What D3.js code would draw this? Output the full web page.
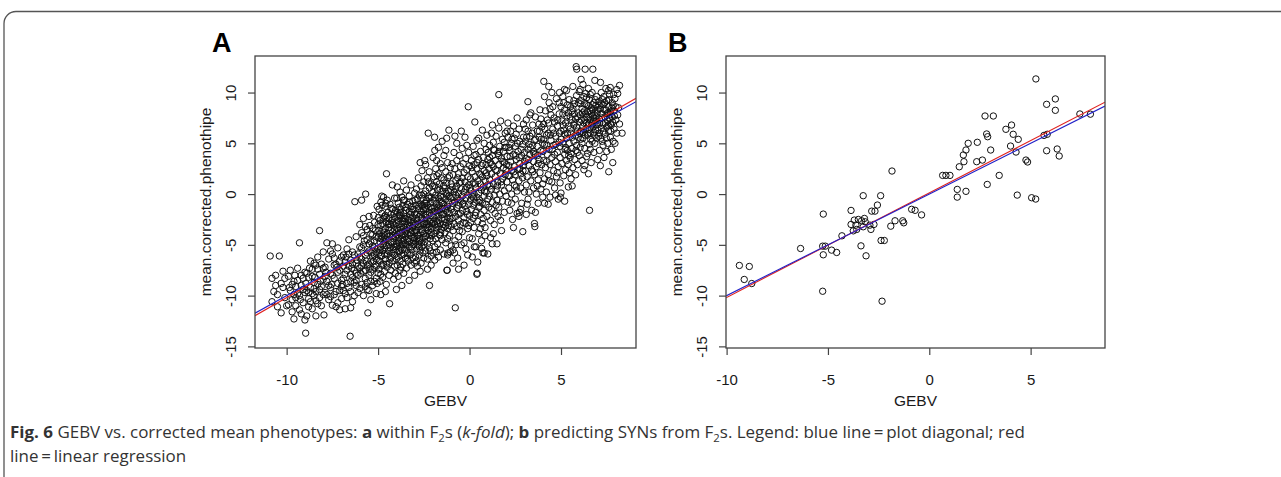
<!DOCTYPE html>
<html>
<head>
<meta charset="utf-8">
<script src="https://cdn.jsdelivr.net/npm/d3@7"></script>
<style>
  body { margin: 0; background: #fff; }
  svg { display: block; }
</style>
</head>
<body>
<svg id="fig" width="1281" height="477"></svg>
<script>
// GEBV (x) vs mean corrected phenotype (y)
// panel A: within F2s (k-fold)
var pointsA = [
  [-10.9,-6.1],[-10.4,-6.1],[-10.5,-11.1],[-10.8,-8.3],[-10.6,-8.0],[-10.2,-9.2],[-10.7,-9.6],[-10.3,-8.8],[-10.1,-10.2],[-10.5,-9.9],[-10.0,-11.0],[-10.3,-11.7],[-10.8,-10.6],[-10.2,-7.6],[-10.6,-9.0],[-10.1,-8.3],
  [-9.9,-8.1],[-9.8,-9.5],[-9.7,-10.4],[-9.6,-12.3],[-9.6,-8.6],[-9.5,-11.0],[-9.5,-9.1],[-9.4,-7.3],[-9.3,-4.8],[-9.3,-10.0],[-9.2,-8.0],[-9.2,-11.8],[-9.1,-9.4],[-9.1,-10.7],[-9.0,-12.4],[-9.0,-7.7],[-9.9,-10.9],[-9.7,-8.9],[-9.4,-9.8],[-9.8,-7.5],[-9.5,-10.2],[-9.2,-9.0],[-9.6,-9.9],[-9.1,-8.3],[-9.3,-11.4],[-9.0,-9.7],[-9.4,-8.5],[-9.7,-11.6],
  [-8.96,-13.7],[-8.9,-12.0],[-8.8,-10.3],[-8.8,-8.2],[-8.7,-9.2],[-8.7,-6.6],[-8.6,-11.3],[-8.6,-7.4],[-8.5,-10.0],[-8.5,-8.7],[-8.4,-12.0],[-8.4,-9.6],[-8.3,-6.2],[-8.3,-10.8],[-8.2,-7.9],[-8.2,-3.6],[-8.1,-9.1],[-8.1,-11.0],[-8.0,-8.4],[-8.0,-5.7],[-8.9,-9.5],[-8.8,-11.1],[-8.6,-9.8],[-8.4,-7.0],[-8.3,-8.9],[-8.7,-10.6],[-8.5,-6.8],[-8.2,-10.2],[-8.1,-6.9],[-8.9,-7.8],[-8.6,-8.1],[-8.4,-10.5],[-8.0,-9.9],[-8.5,-9.3],[-8.2,-9.4],[-8.8,-9.7],[-8.3,-7.4],[-8.0,-7.3],
  [-7.96,-11.9],[-7.9,-9.7],[-7.9,-7.2],[-7.8,-4.8],[-7.8,-8.6],[-7.7,-10.4],[-7.7,-6.4],[-7.6,-9.2],[-7.6,-7.8],[-7.5,-10.95],[-7.5,-5.9],[-7.4,-8.3],[-7.4,-9.9],[-7.3,-11.1],[-7.3,-6.9],[-7.2,-8.8],[-7.2,-5.3],[-7.1,-9.5],[-7.1,-7.5],[-7.0,-10.3],[-7.0,-6.2],[-7.9,-8.1],[-7.7,-9.0],[-7.6,-5.6],[-7.5,-8.0],[-7.4,-7.0],[-7.3,-9.6],[-7.2,-10.7],[-7.1,-6.6],[-7.0,-8.5],[-7.8,-9.9],[-7.6,-10.1],[-7.4,-6.3],[-7.2,-7.7],[-7.0,-9.1],[-7.5,-4.9],[-7.1,-11.4],
  [-6.53,-14.0],[-6.9,-9.5],[-6.9,-6.0],[-6.8,-7.9],[-6.8,-11.3],[-6.7,-5.4],[-6.7,-8.8],[-6.7,-10.2],[-6.6,-7.1],[-6.6,-4.5],[-6.5,-9.6],[-6.5,-6.5],[-6.5,-11.2],[-6.4,-8.2],[-6.4,-5.7],[-6.3,-7.5],[-6.3,-10.0],[-6.2,-6.8],[-6.2,-9.0],[-6.2,-4.2],[-6.1,-8.0],[-6.1,-5.9],[-6.0,-9.3],[-6.0,-7.3],[-6.0,-3.0],[-6.9,-8.3],[-6.8,-6.7],[-6.6,-9.2],[-6.5,-7.9],[-6.4,-10.6],[-6.3,-6.0],[-6.2,-8.5],[-6.1,-7.1],[-6.0,-5.2],[-6.7,-7.5],[-6.6,-5.9],[-6.4,-6.9],[-6.3,-8.7],[-6.1,-9.7],[-6.0,-6.2],[-6.8,-9.8],[-6.5,-8.6],[-6.2,-7.8],[-6.9,-7.1],[-6.27,-0.75],
  [-5.68,0.0],[-5.56,-11.7],[-5.9,-3.8],[-5.9,-6.4],[-5.9,-8.9],[-5.8,-5.0],[-5.8,-7.6],[-5.8,-10.0],[-5.7,-3.2],[-5.7,-6.0],[-5.7,-8.3],[-5.6,-4.5],[-5.6,-7.0],[-5.6,-9.4],[-5.5,-2.2],[-5.5,-5.6],[-5.5,-8.0],[-5.4,-3.9],[-5.4,-6.6],[-5.4,-10.4],[-5.3,-5.1],[-5.3,-7.4],[-5.3,-9.0],[-5.2,-2.8],[-5.2,-6.0],[-5.2,-8.6],[-5.1,-4.2],[-5.1,-7.1],[-5.1,-9.8],[-5.0,-5.4],[-5.0,-3.0],[-5.0,-7.8],[-5.9,-7.1],[-5.8,-4.1],[-5.7,-9.1],[-5.6,-5.8],[-5.5,-6.9],[-5.4,-4.7],[-5.3,-6.2],[-5.2,-7.2],[-5.1,-5.7],[-5.0,-6.5],[-5.9,-5.3],[-5.8,-6.8],[-5.6,-3.5],[-5.5,-9.5],[-5.4,-7.7],[-5.3,-3.4],[-5.2,-4.6],[-5.1,-8.3],[-5.0,-4.3],[-5.7,-7.5],[-5.4,-8.6],[-5.2,-5.3],[-5.6,-8.7],[-5.3,-4.0],[-5.1,-6.4],[-5.9,-0.6],[-5.5,-4.9],[-5.8,-2.4],
  [-4.54,2.0],[-4.22,0.9],[-4.37,-10.8],[-4.6,-9.6],[-4.85,-9.9],[-4.95,-1.5],[-4.95,-3.6],[-4.95,-5.8],[-4.95,-7.4],[-4.9,-2.6],[-4.9,-4.7],[-4.9,-6.6],[-4.9,-8.6],[-4.85,-0.8],[-4.85,-3.1],[-4.85,-5.2],[-4.85,-7.9],[-4.8,-1.9],[-4.8,-4.2],[-4.8,-6.1],[-4.8,-7.0],[-4.75,-2.9],[-4.75,-5.5],[-4.75,-8.2],[-4.7,-0.3],[-4.7,-3.8],[-4.7,-4.9],[-4.7,-6.9],[-4.65,-2.2],[-4.65,-5.9],[-4.65,-7.6],[-4.6,-1.2],[-4.6,-3.4],[-4.6,-4.4],[-4.6,-6.4],[-4.55,-2.7],[-4.55,-5.1],[-4.55,-8.9],[-4.5,-0.6],[-4.5,-3.9],[-4.5,-6.0],[-4.5,-7.2],[-4.45,-1.8],[-4.45,-4.6],[-4.45,-5.6],[-4.4,-2.4],[-4.4,-3.3],[-4.4,-6.8],[-4.4,-8.0],[-4.35,-1.0],[-4.35,-4.1],[-4.35,-5.3],[-4.3,-2.0],[-4.3,-3.0],[-4.3,-6.2],[-4.3,-7.5],[-4.25,-4.8],[-4.25,-5.8],[-4.2,-1.5],[-4.2,-2.8],[-4.2,-3.7],[-4.2,-6.6],[-4.15,-4.4],[-4.15,-5.2],[-4.15,-8.4],[-4.1,-0.4],[-4.1,-2.3],[-4.1,-3.5],[-4.1,-6.0],[-4.1,-7.1],[-4.05,-1.6],[-4.05,-4.2],[-4.05,-5.5],[-4.0,-2.9],[-4.0,-4.9],[-4.0,-6.4],[-4.0,-9.4],[-4.75,-3.6],[-4.6,-2.1],[-4.45,-3.0],[-4.3,-4.7],[-4.15,-3.0],[-4.85,-4.4],[-4.65,-4.1],[-4.55,-6.9],[-4.35,-6.4],[-4.25,-2.6],[-4.9,-5.5],[-4.8,-0.2],[-4.05,-7.8],
  [-3.95,0.7],[-3.95,-1.8],[-3.95,-3.4],[-3.95,-5.1],[-3.95,-7.0],[-3.9,-0.9],[-3.9,-2.6],[-3.9,-4.3],[-3.9,-6.2],[-3.9,-8.1],[-3.85,-1.3],[-3.85,-3.0],[-3.85,-4.8],[-3.85,-5.7],[-3.8,0.2],[-3.8,-2.1],[-3.8,-3.8],[-3.8,-6.6],[-3.8,-7.5],[-3.75,-1.5],[-3.75,-2.9],[-3.75,-4.5],[-3.75,-5.3],[-3.7,-0.3],[-3.7,-2.4],[-3.7,-3.5],[-3.7,-6.0],[-3.7,-9.0],[-3.65,-1.1],[-3.65,-4.0],[-3.65,-5.0],[-3.65,-6.9],[-3.6,1.3],[-3.6,-1.9],[-3.6,-3.2],[-3.6,-4.6],[-3.6,-7.8],[-3.55,-0.6],[-3.55,-2.7],[-3.55,-5.5],[-3.5,-1.6],[-3.5,-3.7],[-3.5,-4.2],[-3.5,-6.3],[-3.45,0.4],[-3.45,-2.2],[-3.45,-5.0],[-3.45,-7.3],[-3.4,-1.0],[-3.4,-3.0],[-3.4,-3.9],[-3.4,-5.8],[-3.35,-2.5],[-3.35,-4.4],[-3.35,-6.6],[-3.3,-0.2],[-3.3,-1.7],[-3.3,-3.4],[-3.3,-5.2],[-3.3,-8.5],[-3.25,-2.0],[-3.25,-4.1],[-3.25,-6.0],[-3.2,0.9],[-3.2,-1.2],[-3.2,-2.8],[-3.2,-4.8],[-3.2,-7.0],[-3.15,-3.6],[-3.15,-5.5],[-3.1,-0.7],[-3.1,-2.3],[-3.1,-4.3],[-3.1,-6.3],[-3.05,-1.5],[-3.05,-3.1],[-3.05,-5.0],[-3.0,0.1],[-3.0,-2.0],[-3.0,-3.8],[-3.0,-6.8],[-3.0,-8.0],[-3.9,-3.6],[-3.7,-4.9],[-3.5,-2.4],[-3.3,-4.7],[-3.1,-3.3],[-3.8,-5.6],[-3.6,-5.9],[-3.4,-6.4],[-3.2,-5.9],[-3.85,-2.1],[-3.55,-3.9],[-3.25,-3.1],[-3.05,-4.6],[-3.65,-2.7],[-3.45,-3.5],[-3.15,-1.8],[-3.95,-4.0],[-3.75,-7.2],
  [-2.26,6.0],[-2.19,-9.0],[-2.95,-1.1],[-2.95,-2.9],[-2.95,-4.7],[-2.95,-6.2],[-2.9,0.5],[-2.9,-2.0],[-2.9,-3.6],[-2.9,-5.4],[-2.85,-0.5],[-2.85,-2.6],[-2.85,-4.1],[-2.85,-7.1],[-2.8,1.6],[-2.8,-1.4],[-2.8,-3.2],[-2.8,-5.0],[-2.75,-0.1],[-2.75,-2.2],[-2.75,-4.4],[-2.75,-6.0],[-2.7,3.1],[-2.7,-1.0],[-2.7,-2.9],[-2.7,-3.8],[-2.7,-5.6],[-2.65,0.8],[-2.65,-1.7],[-2.65,-4.8],[-2.65,-6.8],[-2.6,2.3],[-2.6,-0.4],[-2.6,-2.4],[-2.6,-3.5],[-2.6,-5.2],[-2.55,-1.2],[-2.55,-3.0],[-2.55,-4.3],[-2.5,1.2],[-2.5,0.0],[-2.5,-2.0],[-2.5,-3.9],[-2.5,-6.3],[-2.45,-0.9],[-2.45,-2.7],[-2.45,-4.7],[-2.4,2.9],[-2.4,0.3],[-2.4,-1.5],[-2.4,-3.3],[-2.4,-5.6],[-2.35,-0.6],[-2.35,-2.3],[-2.35,-4.1],[-2.3,1.6],[-2.3,-1.1],[-2.3,-2.9],[-2.3,-4.9],[-2.3,-7.4],[-2.25,-0.2],[-2.25,-3.6],[-2.2,2.2],[-2.2,0.6],[-2.2,-1.8],[-2.2,-3.2],[-2.2,-5.3],[-2.15,-0.9],[-2.15,-2.5],[-2.15,-4.4],[-2.1,1.0],[-2.1,-0.3],[-2.1,-2.1],[-2.1,-3.8],[-2.1,-6.1],[-2.05,-1.4],[-2.05,-2.9],[-2.0,3.6],[-2.0,0.2],[-2.0,-1.7],[-2.0,-4.6],[-2.0,-5.8],[-2.9,-6.6],[-2.7,-7.6],[-2.5,-5.0],[-2.3,-6.4],[-2.1,-7.0],[-2.8,-4.0],[-2.6,-1.1],[-2.4,-2.0],[-2.2,-4.0],[-2.05,-3.4],[-2.95,-3.6],[-2.75,-5.2],[-2.55,-5.8],[-2.35,-3.0],[-2.15,-5.6],[-2.45,-1.3],[-2.25,1.2],[-2.45,3.3],
  [-1.91,5.6],[-1.13,6.3],[-1.24,-7.5],[-1.95,1.7],[-1.95,-0.6],[-1.95,-2.3],[-1.95,-3.9],[-1.9,4.3],[-1.9,0.8],[-1.9,-1.3],[-1.9,-3.0],[-1.9,-5.2],[-1.85,2.5],[-1.85,-0.1],[-1.85,-2.0],[-1.85,-4.4],[-1.8,3.3],[-1.8,1.2],[-1.8,-0.9],[-1.8,-2.7],[-1.8,-3.6],[-1.75,0.4],[-1.75,-1.6],[-1.75,-4.9],[-1.7,2.0],[-1.7,-0.4],[-1.7,-2.2],[-1.7,-3.2],[-1.7,-6.2],[-1.65,1.0],[-1.65,-1.1],[-1.65,-4.0],[-1.6,3.0],[-1.6,-0.2],[-1.6,-1.8],[-1.6,-2.9],[-1.6,-5.5],[-1.55,1.6],[-1.55,-0.7],[-1.55,-3.5],[-1.5,2.6],[-1.5,0.3],[-1.5,-1.4],[-1.5,-2.4],[-1.5,-4.5],[-1.45,-0.3],[-1.45,-3.0],[-1.4,3.8],[-1.4,1.4],[-1.4,-1.0],[-1.4,-2.0],[-1.4,-5.9],[-1.35,0.6],[-1.35,-3.8],[-1.3,2.2],[-1.3,-0.5],[-1.3,-1.6],[-1.3,-2.8],[-1.3,-4.8],[-1.25,1.1],[-1.25,-0.1],[-1.2,3.1],[-1.2,-1.2],[-1.2,-2.3],[-1.2,-3.4],[-1.2,-6.0],[-1.15,0.3],[-1.15,-0.8],[-1.1,1.8],[-1.1,-1.9],[-1.1,-2.7],[-1.1,-4.1],[-1.05,2.6],[-1.05,-0.4],[-1.0,1.0],[-1.0,-1.5],[-1.0,-3.2],[-1.0,-5.1],[-1.9,-6.5],[-1.7,4.6],[-1.5,5.2],[-1.3,4.3],[-1.6,-4.1],[-1.4,-3.3],[-1.2,-4.4],[-1.75,-2.9],[-1.55,-1.5],[-1.35,-2.5],[-1.15,-3.1],[-1.8,-5.7],[-1.05,-5.7],[-1.25,5.5],[-1.22,-7.5],[-1.18,-5.8],
  [-0.07,8.6],[-0.78,-11.2],[-0.95,0.7],[-0.95,-1.2],[-0.95,-2.4],[-0.95,3.0],[-0.9,1.9],[-0.9,-0.3],[-0.9,-3.6],[-0.9,-5.5],[-0.85,4.1],[-0.85,0.2],[-0.85,-1.8],[-0.85,-2.9],[-0.8,2.5],[-0.8,-0.8],[-0.8,-4.6],[-0.75,1.3],[-0.75,-0.1],[-0.75,-2.2],[-0.7,5.0],[-0.7,3.3],[-0.7,0.8],[-0.7,-1.4],[-0.7,-3.2],[-0.65,-0.4],[-0.65,-6.3],[-0.6,2.0],[-0.6,0.1],[-0.6,-1.1],[-0.6,-2.6],[-0.6,-4.2],[-0.55,3.8],[-0.55,1.1],[-0.5,-0.6],[-0.5,-1.9],[-0.5,-3.0],[-0.5,2.7],[-0.45,0.5],[-0.45,-5.0],[-0.4,4.5],[-0.4,1.6],[-0.4,-0.2],[-0.4,-1.6],[-0.4,-3.7],[-0.35,3.0],[-0.35,-0.9],[-0.3,2.1],[-0.3,0.2],[-0.3,-2.3],[-0.3,-4.8],[-0.25,5.6],[-0.25,1.2],[-0.25,-1.2],[-0.2,3.5],[-0.2,-0.4],[-0.2,-2.9],[-0.15,2.4],[-0.15,0.7],[-0.15,-1.7],[-0.1,1.7],[-0.1,-0.1],[-0.1,-3.4],[-0.1,-6.0],[-0.05,4.1],[-0.05,0.9],[-0.05,-1.0],[0.0,2.8],[0.0,-2.1],[0.0,-4.3],[-0.9,-6.8],[-0.6,-7.4],[-0.3,-7.0],[-0.8,5.7],[-0.45,6.2],[-0.15,4.8],[-0.65,1.6],[-0.35,-2.8],[-0.55,-3.6],[-0.2,-5.4],[-0.75,-5.0],[-0.05,-3.1],[-0.82,-5.8],
  [0.29,7.1],[0.4,-7.9],[0.05,1.5],[0.05,-0.6],[0.05,-2.8],[0.1,3.3],[0.1,0.3],[0.1,-1.5],[0.15,2.2],[0.15,-0.2],[0.15,-4.4],[0.2,4.7],[0.2,1.1],[0.2,-1.1],[0.2,-2.4],[0.25,2.9],[0.25,0.0],[0.25,-3.3],[0.3,1.7],[0.3,-0.8],[0.35,3.9],[0.35,0.6],[0.35,-1.8],[0.35,-5.2],[0.4,2.5],[0.4,-0.3],[0.45,1.3],[0.45,-2.7],[0.5,5.5],[0.5,3.4],[0.5,0.1],[0.5,-1.3],[0.5,-3.9],[0.55,2.0],[0.55,-0.6],[0.6,4.2],[0.6,1.0],[0.6,-2.0],[0.65,2.8],[0.65,0.4],[0.65,-4.6],[0.7,1.7],[0.7,-0.9],[0.7,-2.9],[0.75,3.6],[0.75,0.7],[0.8,5.0],[0.8,2.3],[0.8,-0.2],[0.8,-1.6],[0.8,-5.8],[0.85,1.3],[0.85,-3.3],[0.9,4.4],[0.9,2.9],[0.9,0.2],[0.9,-1.0],[0.95,1.8],[0.95,-2.2],[1.0,3.4],[1.0,0.9],[1.0,-0.5],[1.0,-5.9],[0.15,-6.2],[0.45,-6.7],[0.6,-3.4],[0.3,-2.1],[0.7,6.3],[0.4,5.3],[0.95,5.8],[0.85,-4.1],[0.25,3.8],[0.55,-1.2],[0.75,-2.4],[0.73,-5.8],[0.42,-7.8],[0.66,-5.35],[0.26,-5.2],
  [1.6,9.8],[1.05,2.5],[1.05,-1.3],[1.1,4.8],[1.1,1.4],[1.1,-0.2],[1.15,3.1],[1.15,-2.6],[1.2,6.0],[1.2,2.0],[1.2,0.5],[1.2,-1.5],[1.25,3.8],[1.25,-0.8],[1.3,5.1],[1.3,2.7],[1.3,1.0],[1.3,-3.9],[1.35,-0.1],[1.35,4.3],[1.4,1.7],[1.4,-1.9],[1.4,3.3],[1.45,0.4],[1.45,5.7],[1.5,2.3],[1.5,-0.6],[1.5,-4.9],[1.55,4.0],[1.55,1.2],[1.6,2.9],[1.6,-1.3],[1.6,6.5],[1.65,0.0],[1.65,4.7],[1.7,2.0],[1.7,-2.6],[1.75,3.5],[1.75,0.9],[1.8,5.4],[1.8,1.5],[1.8,-0.7],[1.85,2.6],[1.85,4.2],[1.9,0.3],[1.9,-1.8],[1.9,3.1],[1.95,6.0],[1.95,1.9],[2.0,4.6],[2.0,-0.2],[2.0,2.4],[1.15,-4.3],[1.35,-3.0],[1.55,-2.2],[1.75,-3.6],[1.25,6.8],[1.7,7.2],[1.45,-1.1],[1.9,5.1],[1.1,3.6],[1.6,3.8],[1.24,-4.9],
  [2.05,1.2],[2.05,3.7],[2.1,5.6],[2.1,-0.8],[2.15,2.8],[2.15,0.6],[2.2,4.3],[2.2,1.8],[2.2,-1.6],[2.25,6.2],[2.25,3.2],[2.3,0.0],[2.3,2.3],[2.3,5.0],[2.35,1.4],[2.35,-2.5],[2.4,3.9],[2.4,6.7],[2.45,0.9],[2.45,2.7],[2.5,4.7],[2.5,-0.5],[2.5,1.9],[2.55,3.4],[2.55,5.9],[2.6,0.3],[2.6,-1.9],[2.65,2.4],[2.65,4.2],[2.7,1.3],[2.7,-2.2],[2.7,6.4],[2.75,3.0],[2.75,5.2],[2.8,0.6],[2.8,2.0],[2.85,3.8],[2.85,-0.9],[2.9,4.9],[2.9,1.6],[2.91,-3.7],[2.95,2.8],[2.95,6.9],[3.0,0.2],[3.0,4.1],[2.1,7.0],[2.4,-3.3],[2.6,7.5],[2.8,-1.5],[2.3,-0.9],[2.55,0.7],[2.15,4.6],[2.75,2.5],[2.45,5.5],[2.05,6.2],[2.95,5.6],[2.73,-1.8],
  [3.19,9.1],[3.57,-3.2],[3.05,2.3],[3.05,5.2],[3.1,0.9],[3.1,3.5],[3.1,7.3],[3.15,1.7],[3.15,-1.0],[3.2,4.4],[3.2,6.2],[3.25,2.8],[3.25,0.2],[3.3,3.9],[3.3,5.7],[3.35,1.3],[3.35,8.0],[3.4,2.4],[3.4,-1.6],[3.45,4.8],[3.45,6.8],[3.5,0.6],[3.5,3.2],[3.55,1.9],[3.55,5.3],[3.6,3.9],[3.6,7.6],[3.65,0.0],[3.65,2.7],[3.7,4.7],[3.7,6.2],[3.75,1.4],[3.75,-0.9],[3.8,3.4],[3.8,5.6],[3.85,2.1],[3.85,8.3],[3.9,0.5],[3.9,4.3],[3.95,6.6],[3.95,2.9],[4.0,1.0],[4.0,5.0],[4.0,-0.3],[3.2,-0.5],[3.6,-1.8],[3.3,7.8],[3.9,7.4],[3.5,4.2],[3.1,-2.0],[3.7,0.8],[3.45,2.2],[3.8,6.9],[3.25,4.9],[3.75,3.0],[3.05,6.4],[3.55,-2.9],
  [4.06,11.1],[4.33,10.6],[4.05,3.3],[4.05,6.9],[4.1,1.5],[4.1,4.9],[4.15,8.2],[4.15,2.6],[4.2,5.8],[4.2,0.2],[4.25,3.9],[4.25,7.3],[4.3,1.9],[4.3,6.0],[4.35,4.4],[4.35,9.0],[4.4,2.9],[4.4,-0.3],[4.45,5.3],[4.45,7.8],[4.5,1.2],[4.5,3.6],[4.55,6.4],[4.55,8.6],[4.6,2.3],[4.6,4.8],[4.65,0.6],[4.65,7.1],[4.7,3.2],[4.7,5.7],[4.75,1.7],[4.75,9.4],[4.8,4.1],[4.8,6.7],[4.85,2.7],[4.85,-0.5],[4.9,5.1],[4.9,7.9],[4.95,3.6],[4.95,1.1],[5.0,6.2],[5.0,0.1],[5.0,8.6],[4.1,9.6],[4.5,10.0],[4.3,-1.0],[4.7,-0.1],[4.2,3.2],[4.6,6.0],[4.4,8.4],[4.8,2.1],[4.9,9.0],[4.05,5.4],[4.95,4.7],[4.35,1.3],[4.65,3.9],[4.1,-0.9],[4.96,-0.3],[4.92,10.0],
  [5.83,12.55],[5.86,12.3],[5.2,-0.7],[5.4,0.7],[5.05,3.0],[5.05,7.2],[5.1,5.0],[5.1,9.6],[5.15,1.8],[5.15,6.3],[5.2,3.9],[5.2,8.3],[5.25,2.4],[5.25,7.0],[5.3,5.5],[5.3,10.2],[5.35,4.3],[5.35,8.8],[5.4,2.9],[5.4,6.7],[5.45,5.0],[5.45,9.3],[5.5,3.6],[5.5,7.6],[5.55,1.5],[5.55,6.0],[5.6,8.2],[5.6,4.5],[5.65,2.6],[5.65,10.6],[5.7,6.8],[5.7,5.2],[5.75,3.4],[5.75,8.9],[5.8,7.4],[5.8,1.9],[5.85,4.8],[5.85,9.7],[5.9,6.2],[5.9,2.9],[5.95,8.0],[5.95,5.6],[6.0,3.8],[6.0,7.1],[6.0,10.1],[5.1,7.9],[5.3,3.3],[5.5,6.4],[5.7,9.2],[5.9,4.1],[5.2,5.9],[5.4,8.0],[5.6,7.3],[5.8,5.8],[5.15,9.0],[5.35,6.0],[5.55,4.0],[5.75,7.0],[5.95,9.0],[5.45,2.1],[5.65,8.4],[5.25,4.6],[5.85,6.6],[5.61,0.8],[5.19,10.3],
  [6.74,12.3],[6.32,12.3],[6.56,-1.6],[6.05,10.3],[6.05,4.6],[6.05,7.8],[6.1,6.2],[6.1,9.2],[6.15,3.3],[6.15,8.4],[6.2,5.5],[6.2,10.8],[6.25,7.0],[6.25,2.4],[6.3,8.9],[6.3,4.5],[6.35,6.4],[6.35,9.9],[6.4,7.6],[6.4,3.7],[6.45,5.8],[6.45,8.1],[6.5,6.9],[6.5,10.4],[6.5,2.0],[6.55,4.9],[6.55,9.3],[6.6,7.3],[6.6,6.0],[6.65,8.5],[6.65,3.1],[6.7,10.0],[6.7,5.2],[6.75,7.7],[6.75,6.6],[6.8,9.0],[6.8,4.1],[6.85,8.0],[6.85,11.2],[6.9,6.3],[6.9,7.2],[6.95,9.6],[6.95,5.5],[7.0,8.3],[7.0,3.4],[7.0,7.0],[6.1,11.3],[6.3,2.8],[6.5,8.7],[6.7,7.0],[6.9,8.7],[6.2,6.7],[6.4,9.5],[6.6,4.4],[6.8,6.1],[6.15,5.0],[6.35,7.9],[6.55,6.4],[6.75,8.3],[6.95,7.6],[6.25,9.6],[6.45,4.0],[6.65,7.9],[6.85,5.0],[6.05,8.9],[6.6,9.8],[6.3,7.3],[6.8,7.5],
  [7.16,11.0],[7.69,10.5],[8.2,10.7],[8.34,6.0],[7.61,2.2],[7.83,3.1],[7.5,4.2],[7.05,5.7],[7.05,9.1],[7.1,7.4],[7.1,4.3],[7.15,8.4],[7.2,6.5],[7.2,10.0],[7.25,7.9],[7.25,5.2],[7.3,8.8],[7.3,6.9],[7.35,3.6],[7.35,9.6],[7.4,7.6],[7.4,5.9],[7.45,8.3],[7.5,6.6],[7.5,9.2],[7.55,7.2],[7.55,5.0],[7.6,8.6],[7.6,6.2],[7.65,9.8],[7.65,7.5],[7.7,5.6],[7.7,8.1],[7.75,6.8],[7.8,9.0],[7.8,7.6],[7.85,5.2],[7.9,8.2],[7.9,6.4],[7.95,9.4],[8.0,7.3],[8.0,8.6],[8.05,6.0],[8.1,9.9],[8.1,7.8],[8.15,8.5],[8.2,6.9],[7.15,2.8],[7.45,10.4],[7.75,4.4],[8.05,10.3],[7.3,4.8],[7.6,10.2],[7.95,5.0],[7.2,8.9],[7.4,9.0],[7.7,6.9],[7.85,8.7],[7.1,6.0],[7.55,8.0],
  // denser parts of the cloud
  [-9.85,-9.2],[-9.55,-8.0],[-9.25,-10.4],[-8.95,-8.8],[-8.75,-7.3],[-8.45,-8.2],[-8.15,-8.6],[-7.85,-7.7],[-7.55,-8.9],[-7.25,-7.2],[-6.95,-8.9],[-6.75,-6.2],[-6.45,-7.3],[-6.15,-6.5],[-5.95,-7.8],[-5.75,-4.6],[-5.65,-6.6],[-5.45,-7.3],[-5.25,-6.6],[-5.05,-8.8],
  [-5.45,-3.1],[-5.35,-5.8],[-5.25,-2.1],[-5.15,-3.6],[-5.05,-1.2],[-4.98,-2.3],[-4.92,-3.9],[-4.88,-6.1],[-4.78,-1.1],[-4.72,-2.4],[-4.68,-4.5],[-4.62,-5.3],[-4.58,-0.9],[-4.52,-2.3],[-4.48,-4.2],[-4.42,-5.0],[-4.38,-2.9],[-4.32,-3.6],[-4.28,-1.4],[-4.22,-4.1],[-4.18,-5.5],[-4.12,-1.9],[-4.08,-3.9],[-4.02,-5.2],[-3.98,-0.4],[-3.92,-2.2],[-3.88,-4.6],[-3.82,-3.3],[-3.78,-1.8],[-3.72,-4.1],[-3.68,-5.5],[-3.62,-0.6],[-3.58,-2.4],[-3.52,-4.9],[-3.48,-1.3],[-3.42,-3.3],[-3.38,-4.6],[-3.32,-2.6],[-3.28,-0.8],[-3.22,-3.8],[-3.18,-5.2],[-3.12,-1.5],[-3.08,-2.7],[-3.02,-4.3],
  [-2.98,-0.6],[-2.92,-2.4],[-2.88,-4.4],[-2.82,-3.0],[-2.78,-1.2],[-2.72,-4.6],[-2.68,-2.0],[-2.62,-0.1],[-2.58,-3.7],[-2.52,-1.6],[-2.48,-2.9],[-2.42,-4.2],[-2.38,-0.9],[-2.32,-2.0],[-2.28,-3.3],[-2.22,-0.4],[-2.18,-2.7],[-2.12,-1.3],[-2.08,-4.1],[-2.02,0.8],[-1.98,-2.7],[-1.92,-1.7],[-1.88,-0.4],[-1.82,-3.3],[-1.78,1.8],[-1.72,-1.3],[-1.68,-2.6],[-1.62,0.5],[-1.58,-3.8],[-1.52,-0.9],[-1.48,-2.0],[-1.42,0.8],[-1.38,-1.4],[-1.32,-3.1],[-1.28,0.1],[-1.22,-1.8],[-1.18,1.6],[-1.12,-0.2],[-1.08,-2.4],[-1.02,0.4],
  [-0.92,-0.9],[-0.78,0.5],[-0.62,-1.9],[-0.48,1.2],[-0.38,-1.0],[-0.22,0.5],[-0.12,-2.0],[0.02,0.6],[0.12,2.6],[0.22,-0.4],[0.32,1.0],[0.42,3.1],[0.52,-0.8],[0.62,1.9],[0.72,3.0],[0.82,0.3],[0.92,2.1],[1.02,4.1],[1.12,0.8],[1.22,2.9],[1.32,4.4],[1.42,2.4],[1.52,0.8],[1.62,4.2],[1.72,1.2],[1.82,3.2],[1.92,4.6],[2.02,2.9],[2.12,1.8],[2.22,3.7],[2.32,5.4],[2.42,2.2],[2.52,3.8],[2.62,5.0],[2.72,3.6],[2.82,4.4],[2.92,2.3],[3.02,3.2],[3.12,5.6],[3.22,3.4],[3.32,4.6],[3.42,6.0],[3.52,4.0],[3.62,5.4],[3.72,3.8],[3.82,6.2],[3.92,5.4],[4.02,4.2],[4.12,6.4],[4.22,4.8],[4.32,7.0],[4.42,5.8],[4.52,4.4],[4.62,7.5],[4.72,4.9],[4.82,7.3],[4.92,6.0],
  [5.02,5.4],[5.12,6.8],[5.22,4.4],[5.32,7.7],[5.42,3.8],[5.52,8.6],[5.62,5.6],[5.72,7.9],[5.82,4.3],[5.92,7.6],[6.02,6.0],[6.08,5.4],[6.12,7.3],[6.18,8.0],[6.22,6.1],[6.28,8.2],[6.32,5.8],[6.38,7.0],[6.42,8.8],[6.48,6.0],[6.52,7.6],[6.58,8.2],[6.62,5.4],[6.68,6.8],[6.72,8.8],[6.78,7.2],[6.82,5.8],[6.88,9.3],[6.92,6.8],[6.98,8.0],[7.02,6.3],[7.08,8.7],[7.12,7.0],[7.18,5.5],[7.22,7.5],[7.28,9.3],[7.32,6.2],[7.38,8.3],[7.42,7.0],[7.48,5.5],[7.52,7.9],[7.58,6.8],[7.62,9.3],[7.68,7.8],[7.72,6.2],[7.78,8.5],[7.82,7.1],[7.88,9.8],[7.92,7.7]
];

// panel B: predicting SYNs from F2s
var pointsB = [
  [-9.37,-7.03],[-8.88,-7.13],[-9.13,-8.41],[-8.76,-8.81],
  [-6.35,-5.36],[-5.26,-9.57],[-5.23,-1.97],[-5.26,-5.13],[-5.13,-5.13],[-5.23,-5.98],[-4.82,-5.52],[-4.57,-5.75],[-4.31,-4.11],
  [-3.86,-1.61],[-3.86,-2.99],[-3.7,-2.56],[-3.58,-3.48],[-3.75,-3.62],[-3.62,-3.06],[-3.5,-2.5],[-3.34,-2.63],[-3.2,-2.4],[-3.16,-2.73],[-3.26,-3.22],
  [-2.88,-3.48],[-2.93,-3.06],[-2.73,-2.99],[-2.84,-1.68],[-2.68,-1.68],[-2.56,-1.08],[-2.4,-0.16],[-3.26,-0.16],
  [-3.37,-5.1],[-3.12,-6.08],[-2.38,-4.57],[-2.22,-4.57],[-2.33,-10.55],
  [-1.84,2.27],[-1.9,-3.16],[-1.69,-2.63],[-1.31,-2.63],[-1.26,-2.83],[-0.87,-1.5],[-0.7,-1.6],[-0.38,-2.05],
  [0.66,1.84],[0.82,1.84],[1.02,1.84],[1.38,0.46],[1.38,-0.3],[1.81,0.27],[1.48,2.69],[1.71,3.19],[1.68,3.85],[1.81,4.34],[1.92,5.0],
  [2.37,5.1],[2.34,3.19],[2.62,3.35],[2.75,7.69],[3.16,7.69],[2.83,5.92],[2.88,5.65],[3.03,4.34],[2.86,0.95],[3.45,1.84],
  [3.78,6.38],[4.06,6.8],[4.14,5.89],[4.39,5.39],[4.01,4.73],[4.28,4.14],[4.77,3.35],[4.85,3.16],[4.34,-0.1],[5.05,-0.36],[5.25,-0.49],
  [5.26,11.34],[5.79,8.84],[6.22,9.37],[6.22,8.25],[5.66,5.78],[5.82,5.89],[5.79,4.27],[6.31,4.44],[6.41,3.75],[7.43,7.89],[7.95,7.87]
];

var xTicks = [-10, -5, 0, 5];
var yTicks = [-15, -10, -5, 0, 5, 10];
var yDomain = [-15.16, 13.6];
var xDomainA = [-11.73, 9.1];
var xDomainB = [-10.03, 8.67];

// blue = plot diagonal, red = linear regression (intercept, slope)
var diagonal = [0, 1];
var regressionA = [0.08, 1.028];
var regressionB = [0.12, 1.03];

var svg = d3.select('#fig');
var W = 1281, H = 477;

// figure frame (open to the right and bottom, rounded top-left corner)
svg.append('path')
  .attr('d', 'M' + W + ',11.5 H16 A12,12 0 0 0 4,23.5 V' + H)
  .attr('fill', 'none')
  .attr('stroke', '#555')
  .attr('stroke-width', 1.3);

function panel(cfg) {
  var g = svg.append('g');
  var x = d3.scaleLinear().domain(cfg.xDomain).range([cfg.left, cfg.right]);
  var y = d3.scaleLinear().domain(yDomain).range([cfg.bottom, cfg.top]);

  var clipId = 'clip' + cfg.letter;
  svg.append('clipPath').attr('id', clipId).append('rect')
    .attr('x', cfg.left).attr('y', cfg.top)
    .attr('width', cfg.right - cfg.left).attr('height', cfg.bottom - cfg.top);

  // points
  g.append('g').selectAll('circle')
    .data(cfg.points)
    .join('circle')
    .attr('cx', function(d) { return x(d[0]); })
    .attr('cy', function(d) { return y(d[1]); })
    .attr('r', 3.2)
    .attr('fill', 'none')
    .attr('stroke', '#111')
    .attr('stroke-width', 1);

  // lines: regression (red) then diagonal (blue)
  var lines = [{ c: cfg.regression, col: '#e0201c' }, { c: diagonal, col: '#2020c8' }];
  g.append('g').attr('clip-path', 'url(#' + clipId + ')')
    .selectAll('line')
    .data(lines)
    .join('line')
    .attr('x1', x(cfg.xDomain[0]))
    .attr('x2', x(cfg.xDomain[1]))
    .attr('y1', function(d) { return y(d.c[0] + d.c[1] * cfg.xDomain[0]); })
    .attr('y2', function(d) { return y(d.c[0] + d.c[1] * cfg.xDomain[1]); })
    .attr('stroke', function(d) { return d.col; })
    .attr('stroke-width', 1.1);

  // box
  g.append('rect')
    .attr('x', cfg.left).attr('y', cfg.top)
    .attr('width', cfg.right - cfg.left).attr('height', cfg.bottom - cfg.top)
    .attr('fill', 'none').attr('stroke', '#444').attr('stroke-width', 1.3);

  var fmt = function(d) { return String(d); };

  var xa = g.append('g')
    .attr('transform', 'translate(0,' + cfg.bottom + ')')
    .call(d3.axisBottom(x).tickValues(xTicks).tickSize(7).tickFormat(fmt));
  var ya = g.append('g')
    .attr('transform', 'translate(' + cfg.left + ',0)')
    .call(d3.axisLeft(y).tickValues(yTicks).tickSize(7).tickFormat(fmt));

  [xa, ya].forEach(function(a) {
    a.select('.domain').remove();
    a.selectAll('.tick line').attr('stroke', '#444').attr('stroke-width', 1.2);
    a.selectAll('.tick text')
      .attr('fill', '#1a1a1a')
      .style('font-family', 'Liberation Sans, Arial, sans-serif')
      .style('font-size', '15px');
  });
  xa.selectAll('.tick text').attr('dy', null).attr('y', 37);
  ya.selectAll('.tick text')
    .attr('x', null).attr('dy', null)
    .attr('text-anchor', 'middle')
    .attr('transform', 'translate(-19,0) rotate(-90)');

  // axis titles
  g.append('text')
    .attr('x', (cfg.left + cfg.right) / 2).attr('y', cfg.bottom + 58)
    .attr('text-anchor', 'middle')
    .attr('fill', '#1a1a1a')
    .style('font-family', 'Liberation Sans, Arial, sans-serif')
    .style('font-size', '15.5px')
    .text('GEBV');
  g.append('text')
    .attr('transform', 'translate(' + (cfg.left - 44) + ',' + ((cfg.top + cfg.bottom) / 2) + ') rotate(-90)')
    .attr('text-anchor', 'middle')
    .attr('fill', '#1a1a1a')
    .style('font-family', 'Liberation Sans, Arial, sans-serif')
    .style('font-size', '15.5px')
    .text('mean.corrected.phenothipe');

  // panel letter
  g.append('text')
    .attr('x', cfg.letterX).attr('y', 52)
    .attr('fill', '#000')
    .style('font-family', 'Liberation Sans, Arial, sans-serif')
    .style('font-size', '27px')
    .style('font-weight', 'bold')
    .text(cfg.letter);
}

panel({ letter: 'A', letterX: 212, left: 255, right: 636, top: 56, bottom: 348,
        xDomain: xDomainA, points: pointsA, regression: regressionA });
panel({ letter: 'B', letterX: 668, left: 726, right: 1105, top: 56, bottom: 348,
        xDomain: xDomainB, points: pointsB, regression: regressionB });

// caption
var cap = svg.append('g')
  .attr('fill', '#333')
  .style('font-family', 'Open Sans, sans-serif')
  .style('font-size', '16.5px');

var line1 = cap.append('text').attr('x', 0).attr('y', 0);
var parts = [
  ['Fig. 6', 'b'], [' GEBV vs. corrected mean phenotypes: '], ['a', 'b'], [' within F'], ['2', 's'],
  ['s ('], ['k-fold', 'i'], ['); '], ['b', 'b'], [' predicting SYNs from F'], ['2', 's'],
  ['s. Legend: blue line\u2009=\u2009plot diagonal; red']
];
var prevSub = false;
parts.forEach(function(p) {
  var t = line1.append('tspan').text(p[0]);
  if (p[1] === 'b') t.style('font-weight', 'bold');
  if (p[1] === 'i') t.style('font-style', 'italic');
  if (p[1] === 's') t.attr('dy', 4).style('font-size', '11px');
  else if (prevSub) t.attr('dy', -4);
  prevSub = p[1] === 's';
});
var line2 = cap.append('text').attr('x', 0).attr('y', 0)
  .text('line\u2009=\u2009linear regression');

var w1 = line1.node().getComputedTextLength();
var sx = (1026 - 10) / w1;
line1.attr('transform', 'translate(10,438) scale(' + sx + ',1)');
line2.attr('transform', 'translate(10,462) scale(' + sx + ',1)');
</script>
</body>
</html>
